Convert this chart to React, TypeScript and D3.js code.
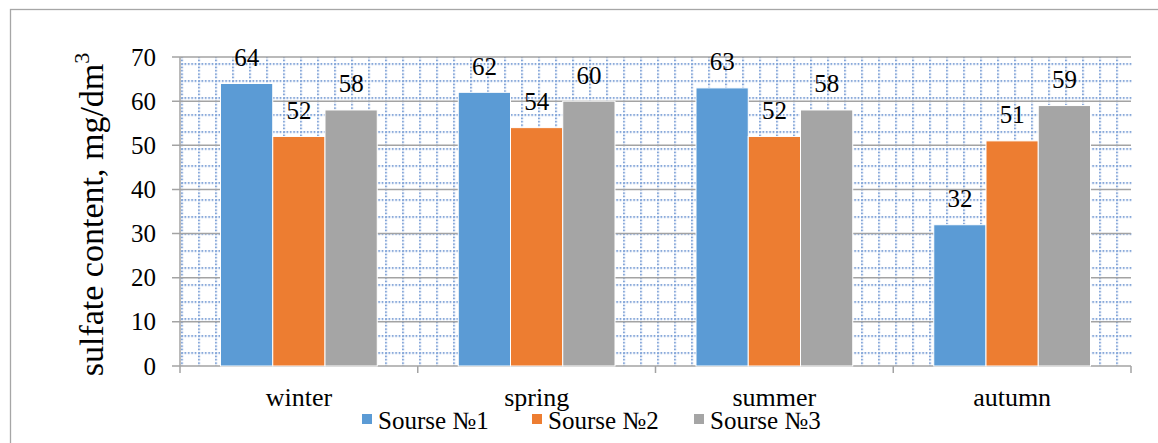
import React from 'react'
import * as d3 from 'd3'

const seasons = ['winter', 'spring', 'summer', 'autumn']
const seriesNames = ['Sourse №1', 'Sourse №2', 'Sourse №3']
const source1 = [64, 62, 63, 32]
const source2 = [52, 54, 52, 51]
const source3 = [58, 60, 58, 59]
const yTicks = [0, 10, 20, 30, 40, 50, 60, 70]
const colors = ['#5B9BD5', '#ED7D31', '#A5A5A5']

const width = 1158
const height = 443
const plot = { left: 180, right: 1131, top: 57, bottom: 366 }
const font = "'Liberation Serif', 'Times New Roman', serif"

const App = () => {
	const series = [source1, source2, source3]

	const x = d3
		.scaleBand()
		.domain(seasons)
		.range([plot.left, plot.right])
		.paddingInner(0)
		.paddingOuter(0)

	const x1 = d3
		.scaleBand()
		.domain(seriesNames)
		.range([40.5, x.bandwidth() - 40.5])

	const y = d3.scaleLinear().domain([0, 70]).range([plot.bottom, plot.top])

	// legend starting positions (square left edges)
	const legendX = [362, 532, 694]

	return (
		<svg
			width={width}
			height={height}
			style={{ position: 'absolute', left: 0, top: 0, display: 'block', background: '#fff' }}
		>
			<defs>
				<pattern
					id="dotgrid"
					patternUnits="userSpaceOnUse"
					width={17}
					height={17}
					x={182 - 0.75}
					y={64 - 0.75}
				>
					<line
						x1={0.75}
						y1={0}
						x2={0.75}
						y2={17}
						stroke="#3d72c2"
						strokeWidth={1.5}
						strokeDasharray="1.5 1.9"
					/>
					<line
						x1={0}
						y1={0.75}
						x2={17}
						y2={0.75}
						stroke="#3d72c2"
						strokeWidth={1.5}
						strokeDasharray="1.5 1.9"
					/>
				</pattern>
			</defs>

			{/* outer chart border */}
			<rect x={10.5} y={9.5} width={1200} height={500} fill="#fff" stroke="#a6a6a6" strokeWidth={1.3} />

			{/* plot area pattern */}
			<rect
				x={plot.left}
				y={plot.top}
				width={plot.right - plot.left + 1}
				height={plot.bottom - plot.top}
				fill="url(#dotgrid)"
			/>

			{/* major gridlines + y ticks */}
			{yTicks.map((t) => (
				<line
					key={'g' + t}
					x1={plot.left - 8}
					x2={plot.right}
					y1={y(t)}
					y2={y(t)}
					stroke="#a3a3a3"
					strokeWidth={1.5}
				/>
			))}
			<line x1={plot.left} x2={plot.left} y1={plot.top} y2={plot.bottom} stroke="#a3a3a3" strokeWidth={1.5} />

			{/* category ticks */}
			{[...seasons.map((s) => x(s)!), plot.right].map((v, i) => (
				<line key={'ct' + i} x1={v} x2={v} y1={plot.bottom} y2={plot.bottom + 7} stroke="#a3a3a3" strokeWidth={1.5} />
			))}

			{/* bars */}
			{seasons.map((s, i) => (
				<g key={s} transform={`translate(${x(s)},0)`}>
					{series.map((vals, j) => (
						<rect
							key={j}
							x={x1(seriesNames[j])}
							y={y(vals[i])}
							width={x1.bandwidth()}
							height={y(0) - y(vals[i])}
							fill={colors[j]}
							stroke="#fff"
							strokeWidth={1}
						/>
					))}
					{series.map((vals, j) => (
						<text
							key={'l' + j}
							x={x1(seriesNames[j])! + x1.bandwidth() / 2}
							y={y(vals[i]) - 17.5}
							textAnchor="middle"
							fontFamily={font}
							fontSize={25}
							fill="#000"
						>
							{vals[i]}
						</text>
					))}
				</g>
			))}

			{/* y tick labels */}
			{yTicks.map((t) => (
				<text
					key={'yl' + t}
					x={156}
					y={y(t)}
					dy="0.34em"
					textAnchor="end"
					fontFamily={font}
					fontSize={25}
					fill="#000"
				>
					{t}
				</text>
			))}

			{/* category labels */}
			{seasons.map((s) => (
				<text
					key={'cl' + s}
					x={x(s)! + x.bandwidth() / 2}
					y={406}
					textAnchor="middle"
					fontFamily={font}
					fontSize={26}
					fill="#000"
				>
					{s}
				</text>
			))}

			{/* y axis title */}
			<text
				transform={`translate(103,${(plot.top + plot.bottom) / 2 + 3}) rotate(-90)`}
				textAnchor="middle"
				fontFamily={font}
				fontSize={34}
				fill="#000"
			>
				sulfate content, mg/dm
				<tspan dy={-14} fontSize={22}>
					3
				</tspan>
			</text>

			{/* legend */}
			{seriesNames.map((n, j) => (
				<g key={'lg' + n}>
					<rect x={legendX[j]} y={414} width={10} height={10} fill={colors[j]} />
					<text x={legendX[j] + 16} y={429} fontFamily={font} fontSize={25} fill="#000">
						{n}
					</text>
				</g>
			))}
		</svg>
	)
}

export default App
